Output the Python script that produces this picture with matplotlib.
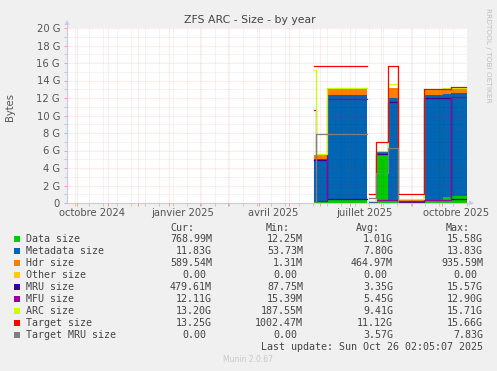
import numpy as np
import pandas as pd
import matplotlib
matplotlib.use('Agg')
import matplotlib.pyplot as plt
import matplotlib.dates as mdates
from matplotlib.patches import Rectangle, Polygon
from matplotlib.lines import Line2D
from matplotlib.ticker import MultipleLocator, FixedLocator, NullFormatter, FuncFormatter

nan = np.nan

# segment start dates, each value holds until the next date (the last date closes the graph)
seg_dates = ['2025-05-26', '2025-05-28', '2025-06-08', '2025-07-18', '2025-07-20', '2025-07-27',
             '2025-08-08', '2025-08-18', '2025-09-13', '2025-10-02', '2025-10-10', '2025-10-26']

# values in G per segment (nan = no data)
data_size   = [0.15, 0.15, 0.45, nan, 0.05, 5.5,  0.3,   0.15, 0.4,  0.7,  0.77]
meta_size   = [4.85, 4.85, 11.9, nan, 0.05, 0.35, 11.7,  0.1,  12.0, 11.8, 11.83]
hdr_size    = [0.5,  0.5,  0.75, nan, 0.02, 0.15, 1.1,   0.05, 0.6,  0.6,  0.59]
other_size  = [0.0,  0.0,  0.0,  nan, 0.0,  0.0,  0.0,   0.0,  0.0,  0.0,  0.0]
mru_size    = [4.9,  4.9,  0.5,  nan, 0.05, 5.6,  11.5,  0.1,  12.0, 12.0, 0.48]
mfu_size    = [10.6, 0.2,  11.9, nan, 0.05, 0.3,  0.3,   0.25, 0.3,  0.3,  12.11]
arc_size    = [15.2, 5.6,  13.15, nan, 0.2, 6.0,  13.6,  0.45, 13.05, 13.15, 13.2]
target_size = [15.66, 15.66, 15.66, nan, 1.0, 7.0, 15.66, 1.0, 13.0, 13.0, 13.25]
target_mru  = [0.0,  7.83, 7.83, nan, 0.6,  3.4,  6.25,  0.0,  0.0,  0.0,  0.0]

area_names = ['Data size', 'Metadata size', 'Hdr size', 'Other size']
line_names = ['MRU size', 'MFU size', 'ARC size', 'Target size', 'Target MRU size']
colors = ['#00cc00', '#0066b3', '#ff8000', '#ffcc00', '#330099', '#990099', '#ccff00', '#ff0000', '#808080']

cur_vals = ['768.99M', '11.83G', '589.54M', '0.00', '479.61M', '12.11G', '13.20G', '13.25G', '0.00']
min_vals = ['12.25M', '53.73M', '1.31M', '0.00', '87.75M', '15.39M', '187.55M', '1002.47M', '0.00']
avg_vals = ['1.01G', '7.80G', '464.97M', '0.00', '3.35G', '5.45G', '9.41G', '11.12G', '3.57G']
max_vals = ['15.58G', '13.83G', '935.59M', '0.00', '15.57G', '12.90G', '15.71G', '15.66G', '7.83G']

label_dates = ['2024-10-16', '2025-01-15', '2025-04-15', '2025-07-15', '2025-10-15']
label_text = ['octobre 2024', 'janvier 2025', 'avril 2025', 'juillet 2025', 'octobre 2025']

W, H = 497, 371
def fx(px):
    return px / W
def fy(py):
    return 1 - py / H

fig = plt.figure(figsize=(W / 100, H / 100), dpi=100, facecolor='#f0f0f0')
ax = fig.add_axes([fx(67), fy(203), 400 / W, 175 / H])
ax.set_facecolor('white')

x = pd.to_datetime(seg_dates).values
# each segment becomes two points (start, end) so gaps (nan) stay gaps
xs = np.column_stack([x[:-1], x[1:]]).ravel()
def steps(vals):
    return np.repeat(np.array(vals, dtype=float), 2)

# stacked areas
bottom = np.zeros(len(xs))
for vals, c in zip([data_size, meta_size, hdr_size, other_size], colors[:4]):
    top = bottom + steps(vals)
    ax.fill_between(xs, bottom, top, color=c, lw=0, zorder=1)
    bottom = top

# lines
for vals, c in zip([mru_size, mfu_size, arc_size, target_size, target_mru], colors[4:]):
    ax.plot(xs, steps(vals), color=c, lw=0.9, zorder=2)

ax.set_xlim(pd.Timestamp('2024-09-21'), pd.Timestamp('2025-10-26'))
ax.set_ylim(0, 20)

# grid: months / every two weeks, 2 G / 1 G
ax.xaxis.set_major_locator(mdates.MonthLocator())
ax.xaxis.set_minor_locator(FixedLocator(mdates.date2num(pd.date_range('2024-09-29', '2025-10-26', freq='14D'))))
ax.xaxis.set_major_formatter(NullFormatter())
ax.xaxis.set_minor_formatter(NullFormatter())
ax.yaxis.set_major_locator(MultipleLocator(2))
ax.yaxis.set_minor_locator(MultipleLocator(1))
ax.yaxis.set_major_formatter(FuncFormatter(lambda v, p: '0' if v == 0 else f'{v:.0f} G'))
ax.set_axisbelow(False)
ax.grid(which='major', color='#ff0000', alpha=0.22, linestyle=(0, (1, 1.4)), lw=0.6)
ax.grid(which='minor', color='#000000', alpha=0.12, linestyle=(0, (1, 1.4)), lw=0.6)
ax.tick_params(which='major', length=2, width=0.72, color='#f0a0a0', labelsize=7.2, labelcolor='#555555', pad=3)
ax.tick_params(which='minor', length=2, width=0.72, color='#c8c8c8')

for s in ['top', 'right']:
    ax.spines[s].set_visible(False)
for s in ['left', 'bottom']:
    ax.spines[s].set_color('#c8c8f0')
    ax.spines[s].set_linewidth(0.8)

for d, t in zip(label_dates, label_text):
    ax.text(pd.Timestamp(d), -0.055, t, transform=ax.get_xaxis_transform(),
            ha='center', va='center', fontsize=7.2, color='#555555')

# axis arrows
fig.add_artist(Line2D([fx(67), fx(67)], [fy(203), fy(24)], color='#c8c8f0', lw=0.8))
fig.add_artist(Line2D([fx(467), fx(470)], [fy(203), fy(203)], color='#c8c8f0', lw=0.8))
fig.add_artist(Polygon([[fx(64.5), fy(25)], [fx(69.5), fy(25)], [fx(67), fy(20)]], closed=True,
                       color='#c8c8f0', lw=0))
fig.add_artist(Polygon([[fx(469), fy(200.5)], [fx(469), fy(205.5)], [fx(474), fy(203)]], closed=True,
                       color='#c8c8f0', lw=0))

fig.text(fx(250), fy(20), 'ZFS ARC - Size - by year', ha='center', va='center', fontsize=7.8, color='#444444')
fig.text(fx(10), fy(107), 'Bytes', ha='center', va='center', rotation=90, fontsize=7.2, color='#555555')
fig.text(fx(488), fy(55), 'RRDTOOL / TOBI OETIKER', ha='center', va='center', rotation=-90,
         fontsize=5.3, color='#c0c0c0')

# legend table
mono = 'DejaVu Sans Mono'
col_ends = [212, 303, 393, 483]
head_ends = [194, 290, 380, 470]
for hx, h in zip(head_ends, ['Cur:', 'Min:', 'Avg:', 'Max:']):
    fig.text(fx(hx), fy(228), h, ha='right', va='center', family=mono, fontsize=7.2, color='#444444')

names = area_names + line_names
for i, name in enumerate(names):
    ry = 239 + 12 * i
    fig.add_artist(Rectangle((fx(14), fy(ry + 3)), 6 / W, 6 / H, color=colors[i], lw=0))
    fig.text(fx(26), fy(ry), name, ha='left', va='center', family=mono, fontsize=7.2, color='#444444')
    for cx, vals in zip(col_ends, [cur_vals, min_vals, avg_vals, max_vals]):
        v = vals[i]
        ex = cx if v[-1].isalpha() else cx - 6
        fig.text(fx(ex), fy(ry), v, ha='right', va='center', family=mono, fontsize=7.2, color='#444444')

fig.text(fx(483), fy(347), 'Last update: Sun Oct 26 02:05:07 2025', ha='right', va='center',
         family=mono, fontsize=7.2, color='#444444')
fig.text(fx(248), fy(360), 'Munin 2.0.67', ha='center', va='center', fontsize=5.5, color='#c8c8c8')

fig.savefig('out.png', dpi=100, facecolor=fig.get_facecolor())
